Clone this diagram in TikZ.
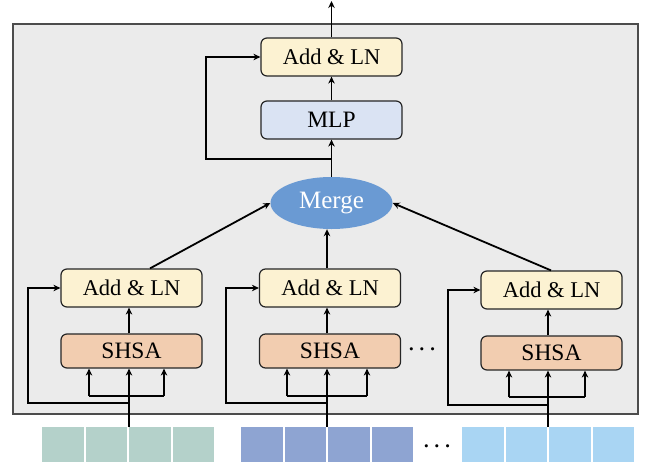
\documentclass[tikz,border=0pt]{standalone}
\usepackage{fontspec}
\setmainfont{Liberation Serif}
\usetikzlibrary{arrows.meta,shapes.geometric}
\definecolor{bggray}{HTML}{EBEBEB}
\definecolor{addfill}{HTML}{FCF2D2}
\definecolor{mlpfill}{HTML}{DAE3F3}
\definecolor{shsafill}{HTML}{F2CDB0}
\definecolor{mergefill}{HTML}{6A9AD3}
\definecolor{tokA}{HTML}{B4D1CA}
\definecolor{tokB}{HTML}{8EA4D2}
\definecolor{tokC}{HTML}{A9D5F3}
\begin{document}
\begin{tikzpicture}[x=1pt,y=-1pt,
  blk/.style={draw=black!85, line width=1.2pt, rounded corners=6pt, minimum width=141pt, inner sep=0pt, font=\fontsize{23.5}{26}\selectfont},
  addln/.style={blk, fill=addfill, minimum height=38pt, font=\fontsize{22.5}{26}\selectfont},
  shsa/.style={blk, fill=shsafill, minimum height=34pt},
  conn/.style={line width=1.8pt, -{Stealth[length=7pt,width=6.5pt]}},
  plain/.style={line width=1.8pt},
  tok/.style={draw=none, minimum width=41.5pt, minimum height=35pt, inner sep=0pt},
  dots/.style={font=\fontsize{22}{24}\selectfont\boldmath}]
\useasboundingbox (0,0) rectangle (651,466);
\draw[fill=bggray, draw=black!70, line width=1.2pt] (13,24) rectangle (638,414);

% tokens
\foreach \i in {0,1,2,3}{
  \node[tok, fill=tokA, anchor=north west] (ta\i) at (42+\i*43.5,427) {};
  \node[tok, fill=tokB, anchor=north west] (tb\i) at (241+\i*43.5,427) {};
  \node[tok, fill=tokC, anchor=north west] (tc\i) at (462+\i*43.5,427) {};
}
\node[dots] (d2) at (437,447) {$\cdots$};

% top part
\node[addln] (top) at (331.5,57) {Add \& LN};
\node[blk, fill=mlpfill, minimum height=38pt] (mlp) at (331.5,120) {MLP};
\node[ellipse, fill=mergefill, minimum width=122pt, minimum height=52pt, inner sep=0pt, text=white, font=\fontsize{25}{28}\selectfont] (merge) at (331.5,203) {Merge};
\coordinate (out) at (331.5,1);
\coordinate (k0) at (206,159);
\draw[conn] (top.north) -- (out);
\draw[conn] (mlp.north) -- (top.south);
\draw[conn] (merge.north) -- (mlp.south);
\draw[conn] (merge.north |- k0) -- (k0) |- (top.west);

% columns
\node[addln] (a1) at (131.5,288) {Add \& LN};
\node[shsa] (s1) at (131.5,351) {SHSA};
\node[addln] (a2) at (330,288) {Add \& LN};
\node[shsa] (s2) at (330,351) {SHSA};
\node[addln] (a3) at (551.5,290) {Add \& LN};
\node[shsa] (s3) at (551.5,353) {SHSA};
\node[dots] (d1) at (422,350) {$\cdots$};

% column 1
\coordinate (c1) at (129,427);
\coordinate (k1) at (28,403);
\draw[conn] (c1) -- (c1 |- s1.south);
\draw[plain] (89,396) -- (164,396);
\draw[conn] (89,396) -- (89,0 |- s1.south);
\draw[conn] (164,396) -- (164,0 |- s1.south);
\draw[conn] (c1 |- k1) -- (k1) |- (a1.west);
\draw[conn] (c1 |- s1.north) -- (c1 |- a1.south);

% column 2
\coordinate (c2) at (327,427);
\coordinate (k2) at (226,403);
\draw[conn] (c2) -- (c2 |- s2.south);
\draw[plain] (287,396) -- (367,396);
\draw[conn] (287,396) -- (287,0 |- s2.south);
\draw[conn] (367,396) -- (367,0 |- s2.south);
\draw[conn] (c2 |- k2) -- (k2) |- (a2.west);
\draw[conn] (c2 |- s2.north) -- (c2 |- a2.south);

% column 3
\coordinate (c3) at (548,427);
\coordinate (k3) at (448,405);
\draw[conn] (c3) -- (c3 |- s3.south);
\draw[plain] (509,397) -- (585,397);
\draw[conn] (509,397) -- (509,0 |- s3.south);
\draw[conn] (585,397) -- (585,0 |- s3.south);
\draw[conn] (c3 |- k3) -- (k3) |- (a3.west);
\draw[conn] (c3 |- s3.north) -- (c3 |- a3.south);

% to merge
\draw[conn] (150,0 |- a1.north) -- (merge.west);
\draw[conn] (c2 |- a2.north) -- (c2 |- merge.south);
\draw[conn] (551,0 |- a3.north) -- (merge.east);
\end{tikzpicture}
\end{document}
